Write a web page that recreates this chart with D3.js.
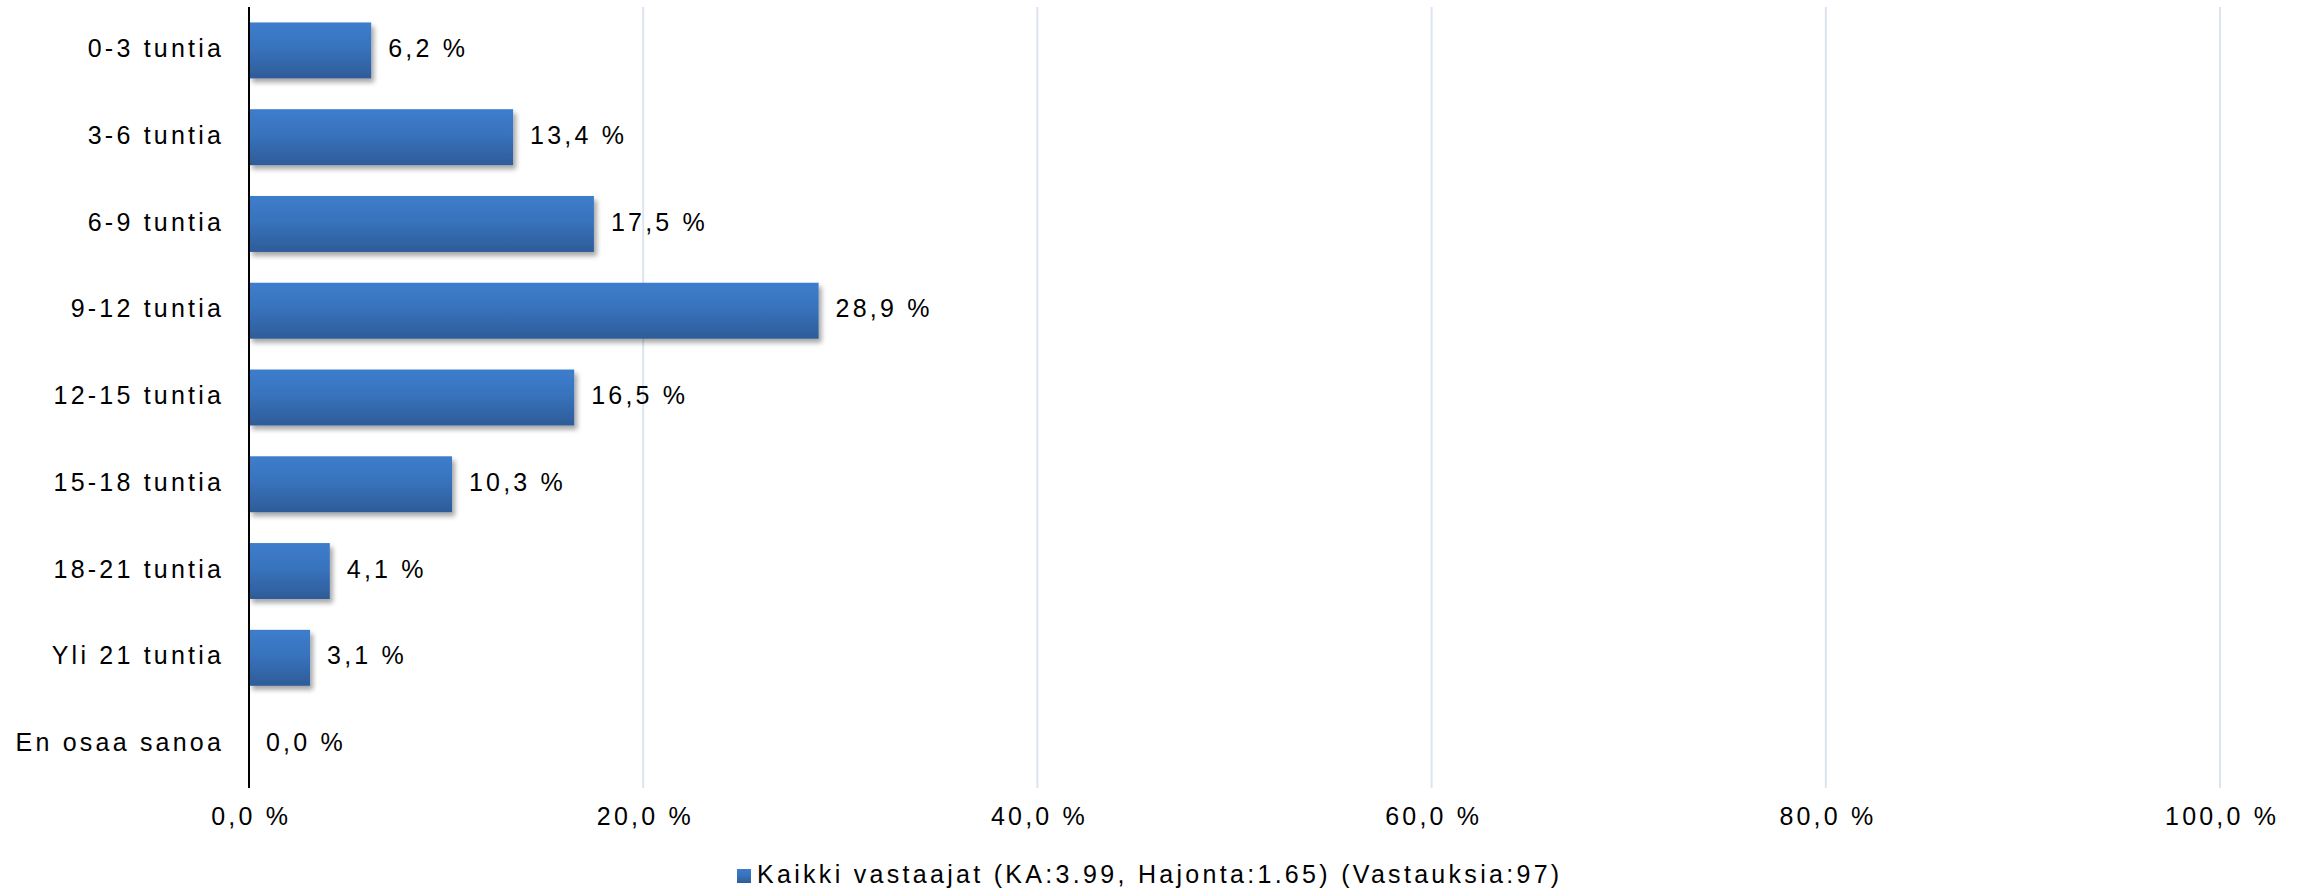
<!DOCTYPE html>
<html>
<head>
<meta charset="utf-8">
<script src="https://cdn.jsdelivr.net/npm/d3@7"></script>
<style>
  html, body { margin: 0; padding: 0; background: #fff; }
  svg text { font-family: "Liberation Sans", Arial, sans-serif; fill: #000; }
</style>
</head>
<body>
<svg id="chart" width="2308" height="894"></svg>
<script>
// Vastausjakauma: tunnit per luokka (%)
const categories = ["0-3 tuntia", "3-6 tuntia", "6-9 tuntia", "9-12 tuntia", "12-15 tuntia",
                    "15-18 tuntia", "18-21 tuntia", "Yli 21 tuntia", "En osaa sanoa"];
const values = [6.2, 13.4, 17.5, 28.9, 16.5, 10.3, 4.1, 3.1, 0.0];
const xTicks = [0, 20, 40, 60, 80, 100];
const seriesName = "Kaikki vastaajat (KA:3.99, Hajonta:1.65) (Vastauksia:97)";

const W = 2308, H = 894;
const margin = { top: 7, right: 88, bottom: 106, left: 249 };
const fontSize = 25, spacing = 3.2;

const svg = d3.select("#chart");
const defs = svg.append("defs");

const grad = defs.append("linearGradient")
  .attr("id", "barGrad").attr("x1", 0).attr("y1", 0).attr("x2", 0).attr("y2", 1);
grad.append("stop").attr("offset", "0%").attr("stop-color", "#3d7dcc");
grad.append("stop").attr("offset", "45%").attr("stop-color", "#3873bd");
grad.append("stop").attr("offset", "100%").attr("stop-color", "#2e5c98");

const shadow = defs.append("filter").attr("id", "barShadow")
  .attr("x", "-5%").attr("y", "-20%").attr("width", "115%").attr("height", "160%");
shadow.append("feGaussianBlur").attr("in", "SourceAlpha").attr("stdDeviation", 2.5);
shadow.append("feOffset").attr("dx", 3).attr("dy", 4).attr("result", "off");
shadow.append("feComponentTransfer").append("feFuncA").attr("type", "linear").attr("slope", 0.35);
const merge = shadow.append("feMerge");
merge.append("feMergeNode");
merge.append("feMergeNode").attr("in", "SourceGraphic");

const x = d3.scaleLinear().domain([0, 100]).range([margin.left, W - margin.right]);
const y = d3.scaleBand().domain(categories)
  .range([margin.top, H - margin.bottom]).paddingInner(0.355).paddingOuter(0.178);

const fmt = v => v.toFixed(1).replace(".", ",") + " %";

// Pystysuuntaiset apuviivat
svg.append("g").selectAll("line")
  .data(xTicks.filter(d => d > 0))
  .join("line")
  .attr("x1", d => x(d)).attr("x2", d => x(d))
  .attr("y1", margin.top).attr("y2", H - margin.bottom)
  .attr("stroke", "#dce4ef").attr("stroke-width", 2);

// X-akselin tikkien tekstit
const xAxis = d3.axisBottom(x).tickValues(xTicks).tickSize(0).tickFormat(fmt);
const gx = svg.append("g")
  .attr("transform", `translate(0,${H - margin.bottom})`)
  .call(xAxis);
gx.select(".domain").remove();
gx.selectAll("text")
  .attr("dy", null).attr("y", 30).attr("dominant-baseline", "middle")
  .attr("dx", spacing / 2)
  .style("font-size", fontSize + "px").style("letter-spacing", spacing + "px")
  .style("font-family", "Liberation Sans, Arial, sans-serif").attr("fill", "#000");

// Palkit
svg.append("g").selectAll("rect")
  .data(values)
  .join("rect")
  .attr("x", x(0))
  .attr("y", (d, i) => y(categories[i]))
  .attr("width", d => x(d) - x(0))
  .attr("height", y.bandwidth())
  .attr("fill", "url(#barGrad)")
  .attr("filter", "url(#barShadow)");

// Arvot palkkien perään
svg.append("g").selectAll("text")
  .data(values)
  .join("text")
  .attr("x", d => x(d) + 17)
  .attr("y", (d, i) => y(categories[i]) + y.bandwidth() / 2)
  .attr("dominant-baseline", "middle")
  .style("font-size", fontSize + "px").style("letter-spacing", spacing + "px")
  .text(fmt);

// Y-akseli: kategoriat
const yAxis = d3.axisLeft(y).tickSize(0).tickPadding(25);
const gy = svg.append("g").attr("transform", `translate(${x(0)},0)`).call(yAxis);
gy.select(".domain").attr("stroke", "#000").attr("stroke-width", 2)
  .attr("d", `M0,${margin.top}V${H - margin.bottom}`);
gy.selectAll("text")
  .attr("dy", null).attr("dominant-baseline", "middle")
  .style("font-size", fontSize + "px").style("letter-spacing", spacing + "px")
  .style("font-family", "Liberation Sans, Arial, sans-serif").attr("fill", "#000");

// Selite
const legend = svg.append("g").attr("transform", "translate(737,876)");
legend.append("rect").attr("x", 0).attr("y", -7).attr("width", 14).attr("height", 14)
  .attr("fill", "url(#barGrad)");
legend.append("text").attr("x", 20).attr("y", 0).attr("dominant-baseline", "middle")
  .style("font-size", fontSize + "px").style("letter-spacing", "3.3px")
  .text(seriesName);
</script>
</body>
</html>
